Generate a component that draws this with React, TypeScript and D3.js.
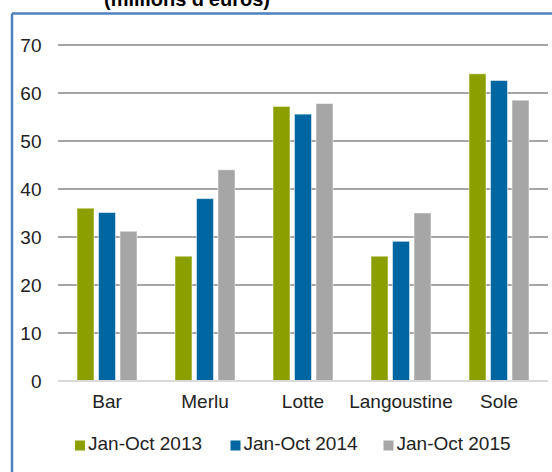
import React from "react";
import * as d3 from "d3";

const categories = ["Bar", "Merlu", "Lotte", "Langoustine", "Sole"];
const seriesNames = ["Jan-Oct 2013", "Jan-Oct 2014", "Jan-Oct 2015"];
const values2013 = [36, 26, 57.2, 26, 64];
const values2014 = [35.1, 38, 55.6, 29.1, 62.6];
const values2015 = [31.2, 44, 57.8, 35, 58.5];
const yTicks = [0, 10, 20, 30, 40, 50, 60, 70];
const colors = ["#8BA000", "#0066A1", "#A6A6A6"];

export default function App() {
  const W = 552, H = 472;
  const left = 58, right = 548, top = 45, bottom = 381;
  const x = d3.scaleBand<string>().domain(categories).range([left, right]).paddingInner(0).paddingOuter(0);
  const y = d3.scaleLinear().domain([0, 70]).range([bottom, top]);
  const series = [values2013, values2014, values2015];
  const barW = 17, gap = 4.5;
  const groupW = barW * 3 + gap * 2;
  const font = "Liberation Sans, Arial, sans-serif";
  const legendX = [75, 230.5, 383.5];
  const fs = 19;

  return (
    <svg width={W} height={H} style={{ position: "absolute", left: 0, top: 0, background: "#fff" }}>
      <rect x={0} y={0} width={W} height={H} fill="#fff" />
      <text x={187} y={6} textAnchor="middle" fontFamily={font} fontWeight="bold" fontSize={20} fill="#000">
        (millions d'euros)
      </text>
      <line x1={12} y1={13.5} x2={W} y2={13.5} stroke="#4F81BD" strokeWidth={2.5} />
      <line x1={12} y1={13.5} x2={12} y2={H} stroke="#4F81BD" strokeWidth={2.5} />
      {yTicks.map((t) => (
        <g key={t}>
          {t !== 0 && (
            <line x1={left} x2={right} y1={y(t)} y2={y(t)} stroke="#A6A6A6" strokeWidth={2} />
          )}
          <text x={41.5} y={y(t)} dy="0.35em" textAnchor="end" fontFamily={font} fontSize={fs} fill="#222">
            {t}
          </text>
        </g>
      ))}
      {categories.map((c, i) => {
        const gx = (x(c) as number) + (x.bandwidth() - groupW) / 2;
        return (
          <g key={c}>
            {series.map((s, j) => (
              <rect
                key={j}
                x={gx + j * (barW + gap)}
                y={y(s[i])}
                width={barW}
                height={y(0) - y(s[i])}
                fill={colors[j]}
                stroke="#ffffff"
                strokeOpacity={0.5}
                strokeWidth={1}
              />
            ))}
            <text x={(x(c) as number) + x.bandwidth() / 2} y={401} dy="0.35em" textAnchor="middle" fontFamily={font} fontSize={fs} fill="#222">
              {c}
            </text>
          </g>
        );
      })}
      <line x1={left} x2={right} y1={y(0)} y2={y(0)} stroke="#D9D9D9" strokeWidth={2} />
      {seriesNames.map((n, j) => (
        <g key={n}>
          <rect x={legendX[j]} y={440.5} width={10} height={10} fill={colors[j]} />
          <text x={legendX[j] + 13} y={443} dy="0.35em" fontFamily={font} fontSize={fs} fill="#222">
            {n}
          </text>
        </g>
      ))}
    </svg>
  );
}
